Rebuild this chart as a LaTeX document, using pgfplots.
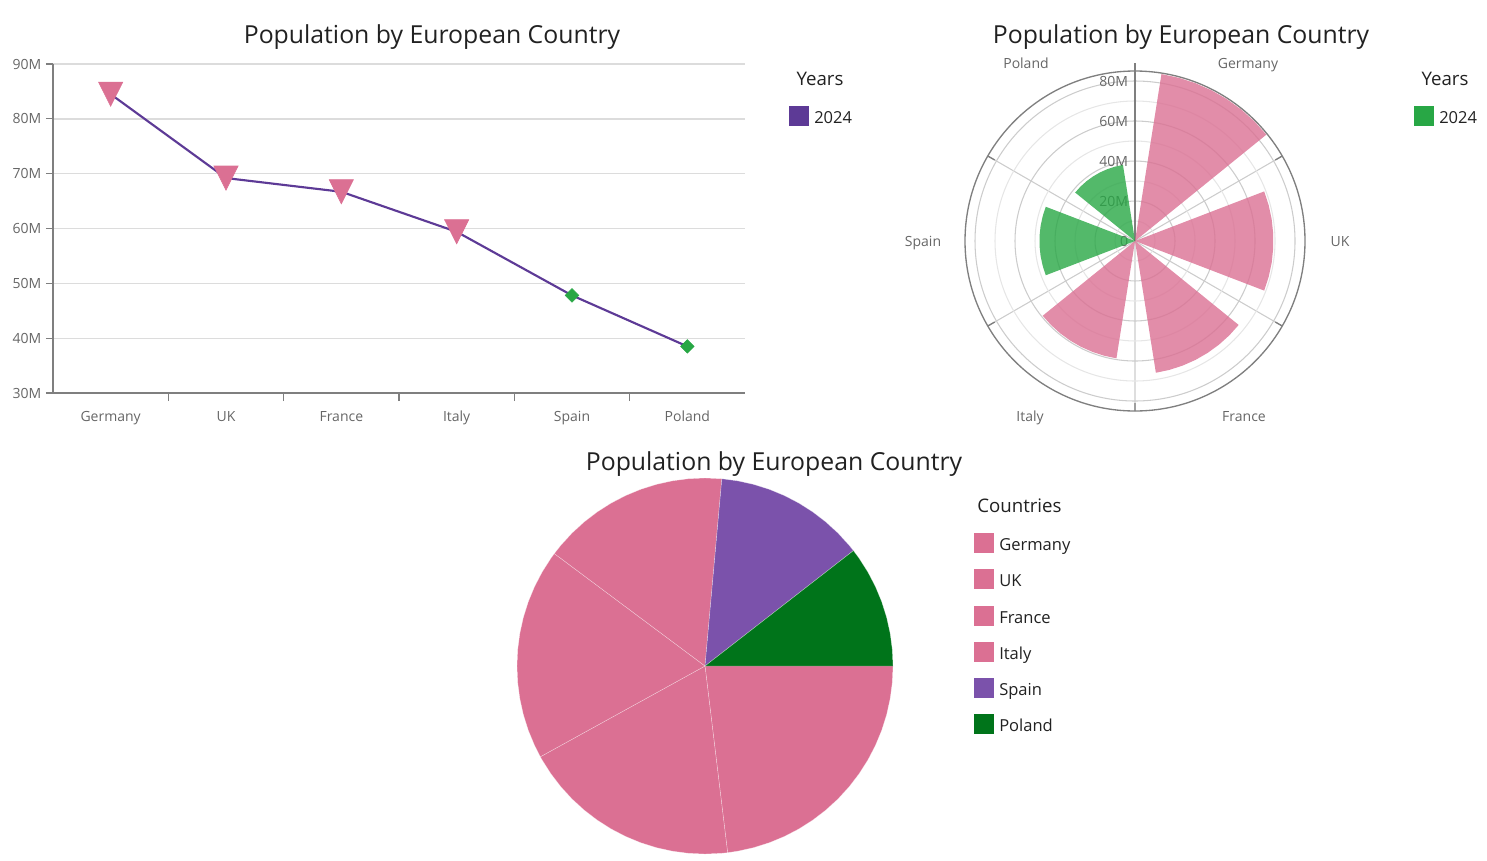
\documentclass[border=0pt]{standalone}
\usepackage{pgfplots}
\pgfplotsset{compat=1.18}
\usepackage{pgfplotstable}
\usepgfplotslibrary{polar}
\usepackage{fontspec}
\setmainfont{Open Sans}
\definecolor{pvr}{HTML}{DB7093}
\definecolor{grn}{HTML}{28A745}
\definecolor{lpur}{HTML}{5D3A96}
\definecolor{ppur}{HTML}{7B52AB}
\definecolor{pgrn}{HTML}{00741A}
\definecolor{tickc}{HTML}{666666}
\definecolor{axc}{HTML}{7F7F7F}
\definecolor{gridc}{HTML}{DCDCDC}
\definecolor{pgridM}{HTML}{CCCCCC}
\definecolor{pgridm}{HTML}{E6E6E6}
\definecolor{txt}{HTML}{212121}

\pgfplotstableread{
x name value
0 Germany 84.5
1 UK 69.2
2 France 66.7
3 Italy 59.4
4 Spain 47.8
5 Poland 38.5
}\popdata

\newcommand\titlefont{\fontsize{18.6}{21}\selectfont}
\newcommand\tickfont{\fontsize{10.5}{12}\selectfont}
\newcommand\legtitlefont{\fontsize{14}{16}\selectfont}
\newcommand\legfont{\fontsize{12.4}{14}\selectfont}

\begin{document}
\begin{tikzpicture}[x=0.75pt,y=-0.75pt]
\path[use as bounding box] (0,0) rectangle (1487,860);
\coordinate (LC) at (53,393);
\coordinate (PC) at (1135,241);
\coordinate (PIE) at (705,666);

% ---------------- line chart ----------------
\begin{axis}[at={(LC)}, anchor=south west, scale only axis,
  width=519pt, height=246.75pt,
  xmin=-0.5, xmax=5.5, ymin=30, ymax=90,
  axis x line*=bottom, axis y line*=left,
  axis line style={draw=axc, line width=0.9pt, -},
  xtick={0,...,5}, xticklabels={Germany,UK,France,Italy,Spain,Poland},
  minor xtick={0.5,1.5,2.5,3.5,4.5},
  ytick={30,40,...,90}, yticklabels={30M,40M,50M,60M,70M,80M,90M},
  tick align=outside,
  major x tick style={draw=none},
  minor tick length=6pt, major tick length=5.25pt,
  tick style={draw=axc, line width=0.9pt},
  ymajorgrids, grid style={draw=gridc, line width=1pt},
  ticklabel style={font=\tickfont, text=tickc},
  xticklabel style={anchor=base, yshift=-15.75pt},
  clip=false,
]
\addplot[lpur, line width=1.6pt] table[x=x,y=value] {\popdata};
\addplot[only marks, mark=triangle*, mark size=10.5pt,
  mark options={yshift=3pt, rotate=180, yscale=1.15, fill=pvr, draw=pvr},
  restrict x to domain=0:3] table[x=x,y=value] {\popdata};
\addplot[only marks, mark=square*, mark size=3.6pt,
  mark options={rotate=45, fill=grn, draw=grn},
  restrict x to domain=4:5] table[x=x,y=value] {\popdata};
\end{axis}
\node[font=\titlefont, text=txt, anchor=base] at (432,43) {Population by European Country};
\node[font=\legtitlefont, text=txt, anchor=base] at (820,85) {Years};
\fill[lpur] (789,106) rectangle (809,126);
\node[font=\legfont, text=txt, anchor=base west, inner sep=0pt] at (814,123) {2024};

% ---------------- polar chart ----------------
\begin{polaraxis}[at={(PC)}, anchor=center, scale only axis,
  width=255pt, height=255pt,
  xmin=0, xmax=360, ymin=0, ymax=85,
  xtick={30,90,...,330}, xticklabels={},
  ytick={0,20,...,80}, minor ytick={10,30,50,70}, yticklabels={},
  xmajorgrids, ymajorgrids, yminorgrids,
  major grid style={draw=pgridM, line width=0.8pt},
  minor grid style={draw=pgridm, line width=0.8pt},
  axis line style={draw=axc, line width=1pt},
  y axis line style={draw=none},
  tick align=outside, major tick length=6pt,
  major x tick style={draw=axc, line width=1pt},
  major y tick style={draw=none}, minor y tick style={draw=none},
  clip=false,
]
\node[anchor=east, font=\tickfont, text=tickc, inner sep=0pt, xshift=-5pt] at (axis cs:90,80) {80M};
\node[anchor=east, font=\tickfont, text=tickc, inner sep=0pt, xshift=-5pt] at (axis cs:90,60) {60M};
\node[anchor=east, font=\tickfont, text=tickc, inner sep=0pt, xshift=-5pt] at (axis cs:90,40) {40M};
\node[anchor=east, font=\tickfont, text=tickc, inner sep=0pt, xshift=-5pt] at (axis cs:90,20) {20M};
\node[anchor=east, font=\tickfont, text=tickc, inner sep=0pt, xshift=-5pt] at (axis cs:90,0) {0};
\draw[axc, line width=1pt] (axis cs:90,0) -- (axis cs:90,89);
% Germany
\addplot[fill=pvr, fill opacity=0.8, draw=none] coordinates {(39,0) (39,84.5) (45,84.5) (51,84.5) (57,84.5) (63,84.5) (69,84.5) (75,84.5) (81,84.5) (81,0)};
% UK
\addplot[fill=pvr, fill opacity=0.8, draw=none] coordinates {(-21,0) (-21,69.2) (-15,69.2) (-9,69.2) (-3,69.2) (3,69.2) (9,69.2) (15,69.2) (21,69.2) (21,0)};
% France
\addplot[fill=pvr, fill opacity=0.8, draw=none] coordinates {(279,0) (279,66.7) (285,66.7) (291,66.7) (297,66.7) (303,66.7) (309,66.7) (315,66.7) (321,66.7) (321,0)};
% Italy
\addplot[fill=pvr, fill opacity=0.8, draw=none] coordinates {(219,0) (219,59.4) (225,59.4) (231,59.4) (237,59.4) (243,59.4) (249,59.4) (255,59.4) (261,59.4) (261,0)};
% Spain
\addplot[fill=grn, fill opacity=0.8, draw=none] coordinates {(159,0) (159,47.8) (165,47.8) (171,47.8) (177,47.8) (183,47.8) (189,47.8) (195,47.8) (201,47.8) (201,0)};
% Poland
\addplot[fill=grn, fill opacity=0.8, draw=none] coordinates {(99,0) (99,38.5) (105,38.5) (111,38.5) (117,38.5) (123,38.5) (129,38.5) (135,38.5) (141,38.5) (141,0)};
\end{polaraxis}
\node[font=\titlefont, text=txt, anchor=base] at (1181,43) {Population by European Country};
\begin{scope}[every node/.style={font=\tickfont, text=tickc, anchor=base}]
\node at (1248,68) {Germany};
\node at (1340,246) {UK};
\node at (1244,421) {France};
\node at (1030,421) {Italy};
\node at (923,246) {Spain};
\node at (1026,68) {Poland};
\end{scope}
\node[font=\legtitlefont, text=txt, anchor=base] at (1445,85) {Years};
\fill[grn] (1414,106) rectangle (1434,126);
\node[font=\legfont, text=txt, anchor=base west, inner sep=0pt] at (1439,123) {2024};

% ---------------- pie chart ----------------
\begin{polaraxis}[at={(PIE)}, anchor=center, scale only axis,
  width=282pt, height=282pt, hide axis,
  xmin=0, xmax=360, ymin=0, ymax=1, clip=false]
% Germany 84.5
\addplot[fill=pvr, draw=white, draw opacity=0.5, line width=0.3pt] coordinates {(276.91,0) (276.91,1) (280,1) (285,1) (290,1) (295,1) (300,1) (305,1) (310,1) (315,1) (320,1) (325,1) (330,1) (335,1) (340,1) (345,1) (350,1) (355,1) (360,1) (360,0)};
% UK 69.2
\addplot[fill=pvr, draw=white, draw opacity=0.5, line width=0.3pt] coordinates {(208.86,0) (208.86,1) (210,1) (215,1) (220,1) (225,1) (230,1) (235,1) (240,1) (245,1) (250,1) (255,1) (260,1) (265,1) (270,1) (275,1) (276.91,1) (276.91,0)};
% France 66.7
\addplot[fill=pvr, draw=white, draw opacity=0.5, line width=0.3pt] coordinates {(143.27,0) (143.27,1) (145,1) (150,1) (155,1) (160,1) (165,1) (170,1) (175,1) (180,1) (185,1) (190,1) (195,1) (200,1) (205,1) (208.86,1) (208.86,0)};
% Italy 59.4
\addplot[fill=pvr, draw=white, draw opacity=0.5, line width=0.3pt] coordinates {(84.86,0) (84.86,1) (90,1) (95,1) (100,1) (105,1) (110,1) (115,1) (120,1) (125,1) (130,1) (135,1) (140,1) (143.27,1) (143.27,0)};
% Spain 47.8
\addplot[fill=ppur, draw=white, draw opacity=0.5, line width=0.3pt] coordinates {(37.86,0) (37.86,1) (40,1) (45,1) (50,1) (55,1) (60,1) (65,1) (70,1) (75,1) (80,1) (84.86,1) (84.86,0)};
% Poland 38.5
\addplot[fill=pgrn, draw=white, draw opacity=0.5, line width=0.3pt] coordinates {(0,0) (0,1) (5,1) (10,1) (15,1) (20,1) (25,1) (30,1) (35,1) (37.86,1) (37.86,0)};
\end{polaraxis}
\node[font=\titlefont, text=txt, anchor=base] at (774,470) {Population by European Country};
\node[font=\legtitlefont, text=txt, anchor=base west, inner sep=0pt] at (977,512) {Countries};
\begin{scope}[every node/.style={font=\legfont, text=txt, anchor=base west, inner sep=0pt}]
\fill[pvr] (974,533) rectangle (994,553); \node at (999,550) {Germany};
\fill[pvr] (974,569) rectangle (994,589); \node at (999,586) {UK};
\fill[pvr] (974,606) rectangle (994,626); \node at (999,623) {France};
\fill[pvr] (974,642) rectangle (994,662); \node at (999,659) {Italy};
\fill[ppur] (974,678) rectangle (994,698); \node at (999,695) {Spain};
\fill[pgrn] (974,714) rectangle (994,734); \node at (999,731) {Poland};
\end{scope}
\end{tikzpicture}
\end{document}
